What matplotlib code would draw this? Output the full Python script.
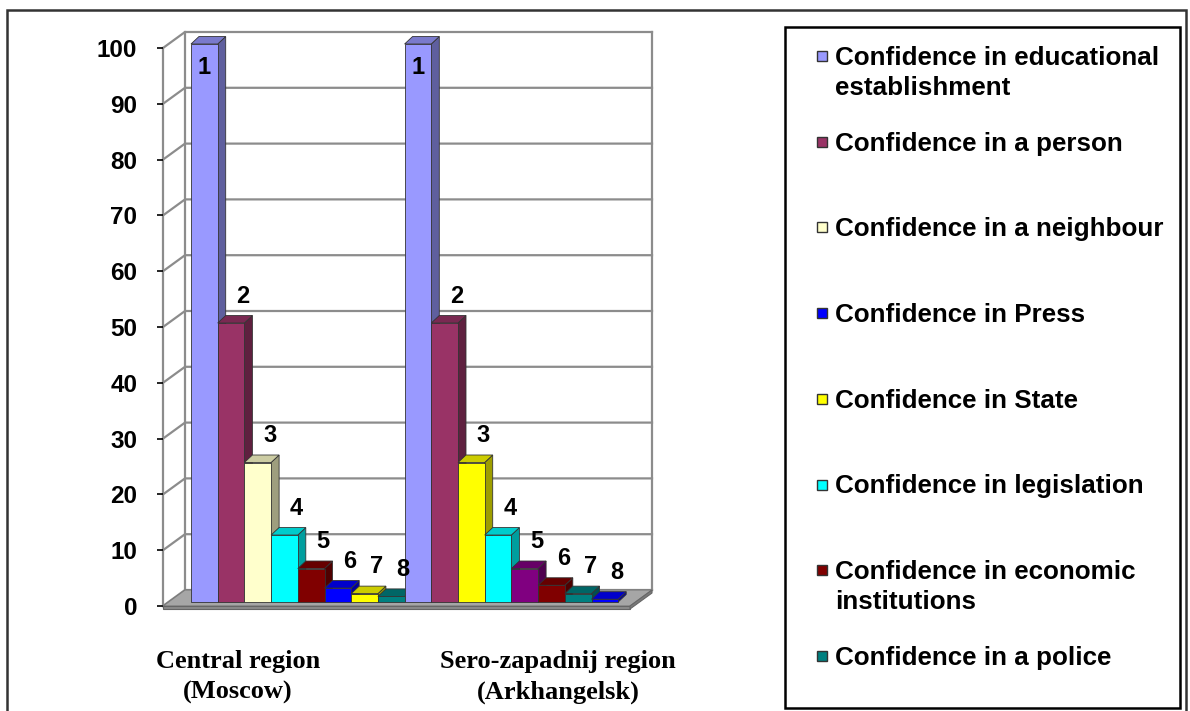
import numpy as np
import matplotlib
matplotlib.use("Agg")
import matplotlib.pyplot as plt
import matplotlib.colors as mcolors
from matplotlib.patches import Polygon, Rectangle

# values
regions = ["Central region\n(Moscow)", "Sero-zapadnij region\n(Arkhangelsk)"]
bar_numbers = ["1", "2", "3", "4", "5", "6", "7", "8"]
central_values = [100, 50, 25, 12, 6, 2.5, 1.5, 1]
sero_values = [100, 50, 25, 12, 6, 3, 1.5, 0.5]
central_colors = ["#9999ff", "#993366", "#ffffcc", "#00ffff", "#800000", "#0000ff", "#ffff00", "#008080"]
sero_colors = ["#9999ff", "#993366", "#ffff00", "#00ffff", "#800080", "#800000", "#008080", "#0000ff"]
legend_labels = [
    "Confidence in educational\nestablishment",
    "Confidence in a person",
    "Confidence in a neighbour",
    "Confidence in Press",
    "Confidence in State",
    "Confidence in legislation",
    "Confidence in economic\ninstitutions",
    "Confidence in a police",
]
legend_colors = ["#9999ff", "#993366", "#ffffcc", "#0000ff", "#ffff00", "#00ffff", "#800000", "#008080"]
yticks = [0, 10, 20, 30, 40, 50, 60, 70, 80, 90, 100]

W, H = 1190, 711
SANS = "Liberation Sans"
SERIF = "Liberation Serif"
GRID = "#8c8c8c"


def shade(c, f):
    r, g, b = mcolors.to_rgb(c)
    return (r * f, g * f, b * f)


fig = plt.figure(figsize=(W / 100, H / 100), dpi=100)

# pixel geometry of the plot box
slot = 26.7          # px per bar
vpx = 5.58           # px per value unit
ax = fig.add_axes([163 / W, 1 - 606 / H, 489 / W, 576 / H])
xmax = 489 / slot
ax.set_xlim(0, xmax)
ax.set_ylim(0, 576 / vpx)

dxw, dyw = 22 / slot, 16 / vpx      # back wall depth
bdx, bdy = 8 / slot, 7.5 / vpx      # bar depth
b0 = 4 / vpx                        # bar base above front floor edge
xr = xmax - dxw

# back wall + left wall gridlines
ax.add_patch(Polygon([(dxw, dyw), (xmax, dyw), (xmax, 100 + dyw), (dxw, 100 + dyw)],
                     closed=True, facecolor="white", edgecolor="none", zorder=0))
for v in yticks:
    ax.plot([0, dxw, xmax], [v, v + dyw, v + dyw], color=GRID, lw=1.6, zorder=1,
            solid_joinstyle="round", clip_on=False)
ax.plot([dxw, dxw], [dyw, 100 + dyw], color=GRID, lw=1.6, zorder=1, clip_on=False)
ax.plot([xmax, xmax], [dyw, 100 + dyw], color=GRID, lw=1.6, zorder=1, clip_on=False)

# floor
t = 3 / vpx
ax.add_patch(Polygon([(0, 0), (xr, 0), (xmax, dyw), (dxw, dyw)], closed=True,
                     facecolor="#a6a6a6", edgecolor="#7a7a7a", lw=0.8, zorder=2, clip_on=False))
ax.add_patch(Polygon([(0, 0), (xr, 0), (xr, -t), (0, -t)], closed=True,
                     facecolor="#8a8a8a", edgecolor="#666666", lw=0.8, zorder=2, clip_on=False))
ax.add_patch(Polygon([(xr, 0), (xmax, dyw), (xmax, dyw - t), (xr, -t)], closed=True,
                     facecolor="#7a7a7a", edgecolor="#666666", lw=0.8, zorder=2, clip_on=False))

# bars
values = central_values + sero_values
colors = central_colors + sero_colors
labels = bar_numbers + bar_numbers
lefts = 28 / slot + np.arange(len(values))
z = 3
for x, v, c, lab in zip(lefts, values, colors, labels):
    top = b0 + v
    ax.add_patch(Polygon([(x + 1, b0), (x + 1 + bdx, b0 + bdy), (x + 1 + bdx, top + bdy), (x + 1, top)],
                         closed=True, facecolor=shade(c, 0.62), edgecolor="#333333", lw=0.6,
                         zorder=z, clip_on=False))
    ax.add_patch(Polygon([(x, top), (x + 1, top), (x + 1 + bdx, top + bdy), (x + bdx, top + bdy)],
                         closed=True, facecolor=shade(c, 0.8), edgecolor="#333333", lw=0.6,
                         zorder=z, clip_on=False))
    ax.bar(x, v, bottom=b0, width=1, align="edge", color=c, edgecolor="#333333",
           lw=0.6, zorder=z + 0.5, clip_on=False)
    z += 1
    ly = v + 5.5
    lx = x + 0.5 + 0.45
    if ly > 97:
        ly, lx = 96.5, x + 0.5
    ax.text(lx, ly, lab, fontsize=17, fontweight="heavy", family=SANS,
            ha="center", va="center", zorder=50)

# axis
for s in ["top", "right", "bottom"]:
    ax.spines[s].set_visible(False)
ax.spines["left"].set_color(GRID)
ax.spines["left"].set_linewidth(1.6)
ax.spines["left"].set_bounds(0, 100)
ax.spines["left"].set_zorder(1)
ax.set_xticks([])
ax.set_yticks(yticks)
ax.tick_params(axis="y", length=4.5, width=1.2, color="black", pad=14)
for tl in ax.get_yticklabels():
    tl.set_fontsize(17.5)
    tl.set_fontweight("bold")
    tl.set_family(SANS)
ax.patch.set_visible(False)

# category labels
for cx, name in zip([238, 558], regions):
    for k, line in enumerate(name.split("\n")):
        fig.text(cx / W, 1 - (668 + 31 * k) / H, line, fontsize=19, fontweight="bold",
                 family=SERIF, ha="center", va="baseline")

# outer frame and legend box
fig.patches.append(Rectangle((7 / W, 1 - 716 / H), 1179 / W, 706 / H, transform=fig.transFigure,
                             fill=False, edgecolor="#333333", lw=1.8))
fig.patches.append(Rectangle((785 / W, 1 - 708 / H), 395 / W, 681 / H, transform=fig.transFigure,
                             fill=False, edgecolor="black", lw=1.8))
for i, (lab, c) in enumerate(zip(legend_labels, legend_colors)):
    yc = 56 + 85.7 * i
    fig.patches.append(Rectangle((817 / W, 1 - (yc + 5) / H), 10 / W, 10 / H,
                                 transform=fig.transFigure, facecolor=c,
                                 edgecolor="#333333", lw=1.0))
    for k, line in enumerate(lab.split("\n")):
        fig.text(835 / W, 1 - (yc + 9 + 30 * k) / H, line, fontsize=18.7, fontweight="bold",
                 family=SANS, ha="left", va="baseline")

fig.savefig("out.png", dpi=100)
